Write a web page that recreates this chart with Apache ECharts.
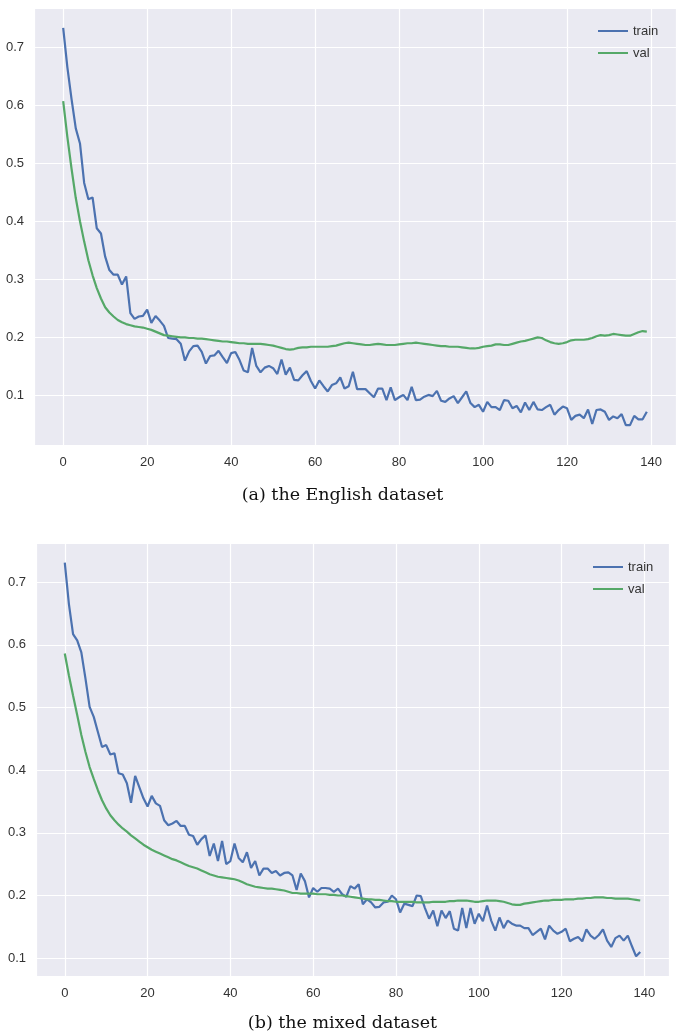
<!DOCTYPE html>
<html>
<head>
<meta charset="utf-8">
<script src="https://cdn.jsdelivr.net/npm/echarts@6/dist/echarts.min.js"></script>
<style>
  html, body { margin: 0; padding: 0; background: #fff; }
  #chart { width: 685px; height: 1035px; }
</style>
</head>
<body>
<div id="chart"></div>
<script>
// loss per epoch
var trainEnglish = [
  0.733, 0.665, 0.610, 0.560, 0.534, 0.466, 0.438, 0.441, 0.388, 0.379,
  0.339, 0.316, 0.308, 0.308, 0.291, 0.305, 0.242, 0.232, 0.236, 0.237,
  0.248, 0.225, 0.237, 0.229, 0.220, 0.199, 0.198, 0.197, 0.189, 0.160,
  0.176, 0.185, 0.186, 0.175, 0.155, 0.168, 0.169, 0.177, 0.166, 0.156,
  0.173, 0.175, 0.161, 0.143, 0.140, 0.182, 0.151, 0.140, 0.148, 0.151,
  0.147, 0.137, 0.162, 0.136, 0.148, 0.127, 0.126, 0.135, 0.142, 0.125,
  0.112, 0.126, 0.116, 0.107, 0.118, 0.121, 0.131, 0.112, 0.116, 0.141,
  0.111, 0.111, 0.111, 0.104, 0.097, 0.112, 0.112, 0.092, 0.114, 0.092,
  0.097, 0.101, 0.092, 0.115, 0.092, 0.093, 0.098, 0.101, 0.099, 0.108,
  0.091, 0.089, 0.095, 0.099, 0.087, 0.097, 0.107, 0.087, 0.080, 0.084,
  0.072, 0.089, 0.080, 0.080, 0.075, 0.092, 0.091, 0.078, 0.082, 0.071,
  0.088, 0.075, 0.089, 0.076, 0.075, 0.080, 0.084, 0.067, 0.075, 0.081,
  0.078, 0.058, 0.065, 0.067, 0.061, 0.076, 0.051, 0.075, 0.076, 0.072,
  0.058, 0.064, 0.061, 0.068, 0.049, 0.049, 0.065, 0.059, 0.059, 0.072
];
var valEnglish = [
  0.607, 0.545, 0.490, 0.440, 0.400, 0.365, 0.333, 0.307, 0.285, 0.267,
  0.252, 0.243, 0.236, 0.230, 0.226, 0.223, 0.221, 0.219, 0.218, 0.217,
  0.215, 0.213, 0.210, 0.207, 0.204, 0.203, 0.202, 0.201, 0.200, 0.200,
  0.199, 0.199, 0.198, 0.198, 0.197, 0.196, 0.195, 0.194, 0.193, 0.193,
  0.192, 0.191, 0.190, 0.190, 0.189, 0.189, 0.189, 0.189, 0.188, 0.187,
  0.186, 0.184, 0.182, 0.180, 0.179, 0.180, 0.182, 0.183, 0.183, 0.184,
  0.184, 0.184, 0.184, 0.184, 0.185, 0.186, 0.188, 0.190, 0.191, 0.190,
  0.189, 0.188, 0.187, 0.187, 0.188, 0.189, 0.188, 0.187, 0.187, 0.187,
  0.188, 0.189, 0.190, 0.190, 0.191, 0.190, 0.189, 0.188, 0.187, 0.186,
  0.185, 0.185, 0.184, 0.184, 0.184, 0.183, 0.182, 0.181, 0.181, 0.182,
  0.184, 0.185, 0.186, 0.188, 0.188, 0.187, 0.187, 0.189, 0.191, 0.193,
  0.194, 0.196, 0.198, 0.200, 0.199, 0.195, 0.192, 0.190, 0.189, 0.190,
  0.192, 0.195, 0.196, 0.196, 0.196, 0.197, 0.199, 0.202, 0.204, 0.203,
  0.204, 0.206, 0.205, 0.204, 0.203, 0.203, 0.206, 0.209, 0.211, 0.210
];
var trainMixed = [
  0.731, 0.665, 0.617, 0.607, 0.588, 0.546, 0.501, 0.485, 0.461, 0.437,
  0.440, 0.425, 0.427, 0.395, 0.393, 0.379, 0.348, 0.391, 0.373, 0.355,
  0.342, 0.359, 0.347, 0.343, 0.320, 0.312, 0.315, 0.319, 0.311, 0.311,
  0.297, 0.295, 0.281, 0.290, 0.296, 0.263, 0.283, 0.255, 0.287, 0.250,
  0.255, 0.283, 0.260, 0.253, 0.269, 0.244, 0.255, 0.232, 0.243, 0.243,
  0.236, 0.239, 0.232, 0.236, 0.237, 0.232, 0.209, 0.235, 0.223, 0.197,
  0.212, 0.206, 0.212, 0.212, 0.211, 0.206, 0.211, 0.202, 0.198, 0.215,
  0.211, 0.218, 0.186, 0.194, 0.189, 0.181, 0.182, 0.189, 0.190, 0.200,
  0.194, 0.173, 0.187, 0.185, 0.183, 0.200, 0.199, 0.180, 0.163, 0.176,
  0.151, 0.176, 0.164, 0.175, 0.147, 0.144, 0.180, 0.148, 0.180, 0.155,
  0.171, 0.159, 0.184, 0.160, 0.144, 0.165, 0.148, 0.160, 0.155, 0.152,
  0.152, 0.148, 0.148, 0.137, 0.142, 0.147, 0.130, 0.152, 0.144, 0.139,
  0.142, 0.147, 0.127, 0.131, 0.134, 0.127, 0.146, 0.136, 0.131, 0.137,
  0.146, 0.128, 0.118, 0.132, 0.136, 0.128, 0.136, 0.119, 0.103, 0.110
];
var valMixed = [
  0.586, 0.551, 0.519, 0.488, 0.456, 0.429, 0.405, 0.386, 0.368, 0.352,
  0.339, 0.328, 0.320, 0.313, 0.307, 0.302, 0.296, 0.291, 0.286, 0.281,
  0.277, 0.273, 0.270, 0.267, 0.264, 0.261, 0.258, 0.256, 0.253, 0.250,
  0.247, 0.245, 0.243, 0.240, 0.237, 0.234, 0.232, 0.230, 0.229, 0.228,
  0.227, 0.226, 0.224, 0.221, 0.218, 0.216, 0.214, 0.213, 0.212, 0.211,
  0.211, 0.210, 0.209, 0.208, 0.206, 0.204, 0.204, 0.203, 0.203, 0.203,
  0.203, 0.202, 0.202, 0.202, 0.201, 0.201, 0.200, 0.200, 0.199, 0.198,
  0.197, 0.196, 0.195, 0.194, 0.194, 0.193, 0.193, 0.192, 0.191, 0.191,
  0.190, 0.190, 0.190, 0.190, 0.190, 0.189, 0.189, 0.189, 0.189, 0.190,
  0.190, 0.190, 0.190, 0.191, 0.191, 0.192, 0.192, 0.192, 0.191, 0.190,
  0.190, 0.191, 0.192, 0.192, 0.192, 0.191, 0.190, 0.188, 0.186, 0.185,
  0.185, 0.187, 0.188, 0.189, 0.190, 0.191, 0.192, 0.192, 0.193, 0.193,
  0.193, 0.194, 0.194, 0.194, 0.195, 0.195, 0.196, 0.196, 0.197, 0.197,
  0.197, 0.196, 0.196, 0.195, 0.195, 0.195, 0.195, 0.194, 0.193, 0.192
];
var captions = ['(a) the English dataset', '(b) the mixed dataset'];
var seriesNames = ['train', 'val'];

var BLUE = '#4C72B0', GREEN = '#55A868';
var font = 'Liberation Sans';

function pairs(arr) {
  return arr.map(function (v, i) { return [i, v]; });
}

// matplotlib style 5% margins
function padded(a, b) {
  var all = a.concat(b);
  var lo = Math.min.apply(null, all), hi = Math.max.apply(null, all);
  var m = (hi - lo) * 0.05;
  return [lo - m, hi + m];
}
var xr = [0 - 139 * 0.05, 139 + 139 * 0.05];
var yrA = padded(trainEnglish, valEnglish);
var yrB = padded(trainMixed, valMixed);

function xAxis(idx) {
  return {
    type: 'value', gridIndex: idx, min: xr[0], max: xr[1],
    minInterval: 20, maxInterval: 20,
    axisLine: { show: false }, axisTick: { show: false },
    axisLabel: { color: '#333', fontFamily: font, fontSize: 13, margin: 11,
                 showMinLabel: false, showMaxLabel: false },
    splitLine: { lineStyle: { color: '#fff', width: 1.2 } }
  };
}
function yAxis(idx, r) {
  return {
    type: 'value', gridIndex: idx, min: r[0], max: r[1],
    minInterval: 0.1, maxInterval: 0.1,
    axisLine: { show: false }, axisTick: { show: false },
    axisLabel: { color: '#333', fontFamily: font, fontSize: 13, margin: 10,
                 showMinLabel: false, showMaxLabel: false,
                 formatter: function (v) { return (Math.round(v * 10) / 10).toFixed(1); } },
    splitLine: { lineStyle: { color: '#fff', width: 1.2 } }
  };
}
function legend(left, top) {
  return {
    orient: 'vertical', left: left, top: top,
    data: seriesNames, icon: 'rect', itemWidth: 30, itemHeight: 2,
    itemGap: 6, selectedMode: false,
    textStyle: { color: '#333', fontFamily: font, fontSize: 13, lineHeight: 16 }
  };
}
function line(name, data, color, idx) {
  return {
    name: name, type: 'line', data: pairs(data), xAxisIndex: idx, yAxisIndex: idx,
    showSymbol: false, color: color,
    lineStyle: { color: color, width: 2.2 }
  };
}
var captionStyle = { fontFamily: 'DejaVu Serif', fontWeight: 'normal', fontSize: 17.5, color: '#111' };

var chart = echarts.init(document.getElementById('chart'));
chart.setOption({
  animation: false,
  backgroundColor: '#fff',
  title: [
    { text: captions[0], left: 'center', top: 481, textStyle: captionStyle },
    { text: captions[1], left: 'center', top: 1009, textStyle: captionStyle }
  ],
  grid: [
    { left: 34, top: 8, width: 642, height: 437, show: true,
      backgroundColor: '#EAEAF2', borderWidth: 0 },
    { left: 36, top: 543, width: 633, height: 433, show: true,
      backgroundColor: '#EAEAF2', borderWidth: 0 }
  ],
  legend: [legend(593, 18), legend(588, 554)],
  xAxis: [xAxis(0), xAxis(1)],
  yAxis: [yAxis(0, yrA), yAxis(1, yrB)],
  series: [
    line('train', trainEnglish, BLUE, 0),
    line('val', valEnglish, GREEN, 0),
    line('train', trainMixed, BLUE, 1),
    line('val', valMixed, GREEN, 1)
  ]
});
</script>
</body>
</html>
